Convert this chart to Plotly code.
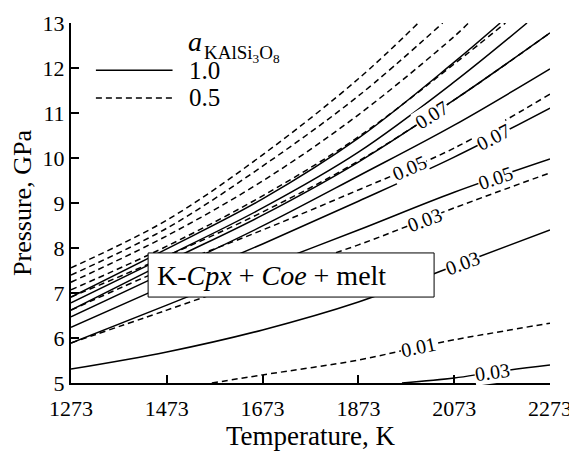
import numpy as np
import plotly.graph_objects as go

# ---------------- data ----------------
T_GRID = [1273, 1473, 1673, 1873, 2073, 2273]
X_TICKS = [1273, 1473, 1673, 1873, 2073, 2273]
Y_TICKS = [5, 6, 7, 8, 9, 10, 11, 12, 13]

# a = 0.5 (dashed) isolines
d_a_T = [1273, 1473, 1673, 1873, 1998]
d_a_P = [7.56, 8.62, 10.07, 11.76, 13.0]
d_b_T = [1273, 1473, 1673, 1873, 2049]
d_b_P = [7.40, 8.44, 9.82, 11.38, 13.0]
d_c_T = [1273, 1473, 1673, 1873, 2073, 2103]
d_c_P = [7.24, 8.27, 9.49, 10.96, 12.70, 13.0]
d_e_T = [1273, 1473, 1673, 1873, 2073, 2180]
d_e_P = [7.07, 8.04, 9.16, 10.47, 12.09, 13.0]
d_g_P = [6.91, 7.82, 8.80, 9.93, 11.29, 12.78]
d_i_P = [6.62, 7.56, 8.40, 9.29, 10.22, 11.42]
d_l_P = [5.89, 6.62, 7.36, 8.07, 8.89, 9.67]
d_n_T = [1567, 1673, 1873, 1998, 2073, 2273]
d_n_P = [5.0, 5.18, 5.51, 5.80, 5.96, 6.33]

# a = 1.0 (solid) isolines
s_d_T = [1273, 1473, 1673, 1873, 2073, 2169]
s_d_P = [6.91, 7.98, 9.09, 10.44, 12.13, 13.0]
s_f_T = [1273, 1473, 1673, 1873, 2073, 2225]
s_f_P = [6.78, 7.82, 8.89, 10.13, 11.69, 13.0]
s_g_P = [6.62, 7.69, 8.73, 9.91, 11.29, 12.78]
s_h_P = [6.47, 7.47, 8.49, 9.60, 10.73, 11.98]
s_j_P = [6.24, 7.18, 8.09, 9.04, 10.02, 11.11]
s_k_P = [5.89, 6.73, 7.58, 8.40, 9.24, 9.98]
s_m_P = [5.31, 5.69, 6.18, 6.80, 7.60, 8.40]
s_o_T = [1964, 2073, 2153, 2273]
s_o_P = [5.0, 5.11, 5.24, 5.40]

dashed_lines = [
    (d_a_T, d_a_P), (d_b_T, d_b_P), (d_c_T, d_c_P), (d_e_T, d_e_P),
    (T_GRID, d_g_P), (T_GRID, d_i_P), (T_GRID, d_l_P), (d_n_T, d_n_P),
]
solid_lines = [
    (s_d_T, s_d_P), (s_f_T, s_f_P), (T_GRID, s_g_P), (T_GRID, s_h_P),
    (T_GRID, s_j_P), (T_GRID, s_k_P), (T_GRID, s_m_P), (s_o_T, s_o_P),
]

# isoline labels: text, temperature, line it sits on
label_text = ["0.07", "0.07", "0.05", "0.05", "0.03", "0.03", "0.01", "0.03"]
label_T = [2025, 2155, 1979, 2159, 2010, 2091, 1998, 2153]
label_line = [(T_GRID, d_g_P), (T_GRID, s_j_P), (T_GRID, d_i_P), (T_GRID, s_k_P),
              (T_GRID, d_l_P), (T_GRID, s_m_P), (d_n_T, d_n_P), (s_o_T, s_o_P)]

legend_labels = ["1.0", "0.5"]
FIELD_TEXT = "K-<i>Cpx</i> + <i>Coe</i> + melt"

# ---------------- figure ----------------
FONT = "Liberation Serif, Times New Roman, serif"
OFF = 8                      # page body margin of the browser
W, H = 577 - OFF, 456 - OFF
ML, MR, MT, MB = 71 - OFF, 27, 23 - OFF, 73
PX_PER_K = (W - ML - MR) / (2273 - 1273)
PX_PER_GPA = (H - MT - MB) / (13 - 5)

fig = go.Figure()
for tt, pp in dashed_lines:
    fig.add_trace(go.Scatter(x=tt, y=pp, mode="lines", showlegend=False,
                             line=dict(color="black", width=1.5, dash="6px,4px", shape="spline"),
                             hoverinfo="skip"))
for tt, pp in solid_lines:
    fig.add_trace(go.Scatter(x=tt, y=pp, mode="lines", showlegend=False,
                             line=dict(color="black", width=1.5, shape="spline"),
                             hoverinfo="skip"))

annotations = []
for txt, tl, (lt, lp) in zip(label_text, label_T, label_line):
    py = float(np.interp(tl, lt, lp))
    slope = (np.interp(tl + 20, lt, lp) - np.interp(tl - 20, lt, lp)) / 40.0
    ang = np.degrees(np.arctan(slope * PX_PER_GPA / PX_PER_K))
    annotations.append(dict(x=tl, y=py, xref="x", yref="y", text=txt, showarrow=False,
                            textangle=-ang, bgcolor="white", borderpad=0,
                            font=dict(family=FONT, size=20, color="black")))

# field label box
fig.add_shape(type="rect", xref="x", yref="y", x0=1434, x1=2031, y0=6.91, y1=7.89,
              fillcolor="white", line=dict(color="black", width=1), layer="above")
annotations.append(dict(x=1448, y=7.4, xref="x", yref="y", xanchor="left", yanchor="middle",
                        text=FIELD_TEXT, showarrow=False,
                        font=dict(family=FONT, size=28, color="black")))

# legend (drawn in paper space)
fig.add_shape(type="line", xref="paper", yref="paper", x0=0.052, x1=0.212, y0=0.869, y1=0.869,
              line=dict(color="black", width=1.5))
fig.add_shape(type="line", xref="paper", yref="paper", x0=0.052, x1=0.212, y0=0.792, y1=0.792,
              line=dict(color="black", width=1.5, dash="6px,4px"))
annotations.append(dict(x=0.243, y=0.869, xref="paper", yref="paper", xanchor="left",
                        yanchor="middle", text=legend_labels[0], showarrow=False,
                        font=dict(family=FONT, size=25, color="black")))
annotations.append(dict(x=0.243, y=0.792, xref="paper", yref="paper", xanchor="left",
                        yanchor="middle", text=legend_labels[1], showarrow=False,
                        font=dict(family=FONT, size=25, color="black")))
annotations.append(dict(x=0.243, y=0.95, xref="paper", yref="paper", xanchor="left",
                        yanchor="middle", text="<i>a</i>", showarrow=False, borderpad=0,
                        font=dict(family=FONT, size=28, color="black")))
annotations.append(dict(x=0.276, y=0.877, xref="paper", yref="paper", xanchor="left",
                        yanchor="bottom", text="KAlSi<sub>3</sub>O<sub>8</sub>", showarrow=False,
                        borderpad=0, font=dict(family=FONT, size=19, color="black")))

axis_common = dict(showline=True, linecolor="black", linewidth=2, ticks="inside",
                   ticklen=8, tickwidth=2, tickcolor="black", showgrid=False, zeroline=False,
                   ticklabeloverflow="allow",
                   tickfont=dict(family=FONT, size=22, color="black"))
fig.update_layout(
    width=W, height=H, margin=dict(l=ML, r=MR, t=MT, b=MB, autoexpand=False),
    paper_bgcolor="white", plot_bgcolor="white",
    annotations=annotations,
    xaxis=dict(range=[1273, 2273], tickvals=X_TICKS, ticktext=[str(v) for v in X_TICKS],
               ticklabelstandoff=5,
               title=dict(text="Temperature, K", font=dict(family=FONT, size=27, color="black"),
                          standoff=0),
               **axis_common),
    yaxis=dict(range=[5, 13], tickvals=Y_TICKS, ticktext=[str(v) for v in Y_TICKS],
               title=dict(text="Pressure, GPa", font=dict(family=FONT, size=26, color="black"),
                          standoff=4),
               **axis_common),
)
fig.write_html("out.html")
